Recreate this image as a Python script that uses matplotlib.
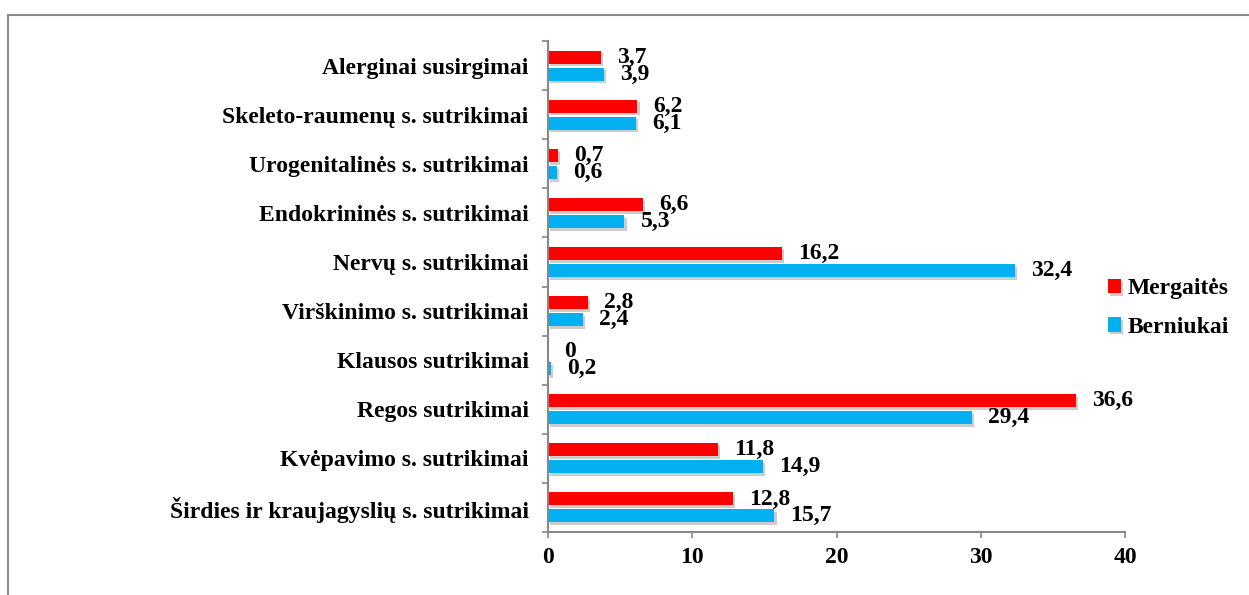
import numpy as np
import matplotlib.pyplot as plt
import matplotlib.patheffects as pe
from matplotlib.patches import Rectangle

plt.rcParams['font.family'] = ['Liberation Serif', 'DejaVu Serif']
plt.rcParams['font.weight'] = 'bold'

# duomenys (is virsaus i apacia)
categories = ['Alerginai susirgimai', 'Skeleto-raumenų s. sutrikimai', 'Urogenitalinės s. sutrikimai',
              'Endokrininės s. sutrikimai', 'Nervų s. sutrikimai', 'Virškinimo s. sutrikimai',
              'Klausos sutrikimai', 'Regos sutrikimai', 'Kvėpavimo s. sutrikimai',
              'Širdies ir kraujagyslių s. sutrikimai']
mergaites = [3.7, 6.2, 0.7, 6.6, 16.2, 2.8, 0, 36.6, 11.8, 12.8]
berniukai = [3.9, 6.1, 0.6, 5.3, 32.4, 2.4, 0.2, 29.4, 14.9, 15.7]

red = '#ff0000'
blue = '#00b0f0'

W, H = 1249, 595
fig = plt.figure(figsize=(W / 100, H / 100), dpi=100)
ax = fig.add_axes([548 / W, 1 - 532 / H, 577 / W, 491 / H])

y = np.arange(len(categories))
h = 0.265
shadow = [pe.SimplePatchShadow(offset=(1.5, -2), shadow_rgbFace='#808080', alpha=0.4), pe.Normal()]
b1 = ax.barh(y - 0.173, mergaites, height=h, color=red, label='Mergaitės', path_effects=shadow)
b2 = ax.barh(y + 0.173, berniukai, height=h, color=blue, label='Berniukai', path_effects=shadow)

for bars, vals in ((b1, mergaites), (b2, berniukai)):
    for bar, v in zip(bars, vals):
        txt = ('%g' % v).replace('.', ',')
        ax.annotate(txt, (bar.get_width(), bar.get_y() + bar.get_height() / 2),
                    xytext=(16, 0), textcoords='offset pixels',
                    va='center', ha='left', fontsize=17, fontweight='bold')

ax.set_ylim(len(categories) - 0.5, -0.5)
ax.set_xlim(0, 40)
ax.set_xticks([0, 10, 20, 30, 40])
ax.set_yticks(y)
ax.set_yticklabels(categories, fontsize=17, fontweight='bold')
ax.set_yticks(np.arange(len(categories) + 1) - 0.5, minor=True)
ax.tick_params(axis='y', which='major', length=0, pad=14)
ax.tick_params(axis='y', which='minor', length=4.5, color='#888888', width=1.2)
ax.tick_params(axis='x', length=4.5, color='#888888', width=1.2, labelsize=17, pad=6, direction='out')
for lbl in ax.get_xticklabels():
    lbl.set_fontweight('bold')
for s in ['top', 'right']:
    ax.spines[s].set_visible(False)
for s in ['left', 'bottom']:
    ax.spines[s].set_color('#888888')
    ax.spines[s].set_linewidth(1.5)

leg = fig.legend(handles=[b1, b2], loc='center left', bbox_to_anchor=(1108 / W, 1 - 308 / H),
                 bbox_transform=fig.transFigure, frameon=False, borderpad=0, borderaxespad=0,
                 prop={'size': 17, 'weight': 'bold'}, handlelength=0.55, handleheight=0.55,
                 handletextpad=0.3, labelspacing=0.75)

# remelis aplink paveiksla
fig.patches.append(Rectangle((8 / W, -0.1), 1.2, 1 - 14.5 / H + 0.1, transform=fig.transFigure,
                             fill=False, edgecolor='#8c8c8c', linewidth=1.5))

fig.savefig('out.png', dpi=100)
